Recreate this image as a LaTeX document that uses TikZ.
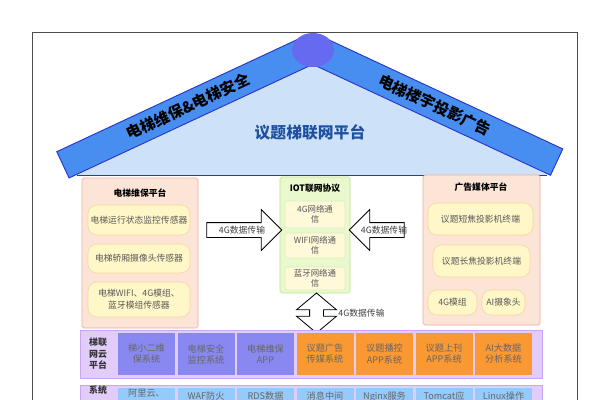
\documentclass[tikz,border=0pt]{standalone}
\usepackage{fontspec}
\setmainfont{Noto Sans CJK SC}
\usetikzlibrary{shapes.arrows, shapes.geometric, positioning}
\newdimen\pxu \pxu=0.03cm
\definecolor{roofblue}{RGB}{205,226,248}
\definecolor{bandblue}{RGB}{72,142,240}
\definecolor{banddark}{RGB}{40,55,200}
\definecolor{knob}{RGB}{102,106,240}
\definecolor{titleblue}{RGB}{30,80,160}
\definecolor{peach}{RGB}{252,228,214}
\definecolor{peachline}{RGB}{240,172,162}
\definecolor{cream}{RGB}{255,247,200}
\definecolor{creamline}{RGB}{243,214,160}
\definecolor{lime}{RGB}{234,249,205}
\definecolor{limeline}{RGB}{188,228,140}
\definecolor{lilac}{RGB}{226,204,250}
\definecolor{lilacline}{RGB}{200,165,245}
\definecolor{periw}{RGB}{136,136,240}
\definecolor{orng}{RGB}{250,152,50}
\definecolor{sky}{RGB}{150,202,250}
\tikzset{
  band/.style={draw=banddark, fill=bandblue, line width=0.8pt, minimum height=29\pxu, inner sep=0pt, font=\fontsize{13}{15}\selectfont\bfseries},
  panel/.style={draw=peachline, fill=peach, line width=0.6pt, rounded corners=1.5pt},
  ptitle/.style={font=\fontsize{7.5}{9}\selectfont\bfseries, inner sep=0pt},
  sensor/.style={draw=creamline, fill=cream, line width=0.5pt, rounded corners=9\pxu, align=center, inner sep=0pt, text=black!65, font=\fontsize{7.5}{10}\selectfont},
  netbox/.style={draw=limeline!60, fill=cream!70!white, line width=0.5pt, rounded corners=2pt, minimum width=60\pxu, align=center, inner sep=0pt, text=black!65, font=\fontsize{7.2}{8.6}\selectfont},
  blockarr/.style={single arrow, draw, fill=white, line width=0.7pt, single arrow head extend=13\pxu, inner xsep=0pt, inner ysep=7\pxu, text height=0pt, text depth=0pt},
  dblarr/.style={double arrow, draw, fill=white, line width=0.7pt, double arrow head extend=13\pxu, double arrow tip angle=100, inner xsep=0pt, inner ysep=6.5\pxu, text height=0pt, text depth=0pt},
  lbl/.style={font=\fontsize{7.5}{9}\selectfont, text=black!75, inner sep=0pt},
  tier/.style={draw=lilacline, fill=lilac, line width=0.6pt, minimum width=462\pxu},
  tierhd/.style={align=center, font=\fontsize{7.6}{9.8}\selectfont\bfseries, text=black!80, inner sep=0pt},
  appcell/.style={minimum width=57\pxu, minimum height=42\pxu, align=center, inner sep=0pt, text=black!60, font=\fontsize{7.8}{9.4}\selectfont},
  svccell/.style={fill=sky, minimum width=57\pxu, anchor=north, align=center, inner xsep=0pt, inner ysep=3.5\pxu, text height=7pt, text depth=40\pxu, text=black!60, font=\fontsize{7.8}{9.4}\selectfont}
}

\begin{document}
\begin{tikzpicture}[x=0.03cm, y=-0.03cm]
  \useasboundingbox (0,0) rectangle (598,400);
  \clip (0,0) rectangle (598,400);
  \draw[gray!60!black, line width=0.8pt] (32,32) rectangle (577,460);

  % roof
  \fill[roofblue] (77,175) -- (313,48) -- (547,175) -- cycle;
  \draw[banddark, line width=0.8pt] (77,175) -- (547,175);
  \node[band, rotate=25, minimum width=276\pxu] (lband) at (188,106.5) {电梯维保\&电梯安全};
  \node[band, rotate=-25, minimum width=269\pxu] (rband) at (434.75,105.25) {电梯楼宇投影广告};
  \node[ellipse, fill=knob, minimum width=42\pxu, minimum height=34\pxu] (apex) at (313,50) {};
  \node[font=\fontsize{13.5}{15}\selectfont\bfseries, text=titleblue] (title) at (310,132) {议题梯联网平台};

  % maintenance platform
  \node[panel, minimum width=116\pxu, minimum height=150\pxu] (maint) at (140,253) {};
  \node[ptitle] (maintT) at (140,193) {电梯维保平台};
  \node[sensor, minimum width=102\pxu, minimum height=30\pxu] (run) at (139,220) {电梯运行状态监控传感器};
  \node[sensor, minimum width=102\pxu, minimum height=29\pxu] (cam) at (139,258.5) {电梯轿厢摄像头传感器};
  \node[sensor, minimum width=102\pxu, minimum height=35\pxu] (wifi) at (139,299.5) {电梯WIFI、4G模组、\\蓝牙模组传感器};

  % IOT protocols
  \node[panel, draw=limeline, fill=lime, minimum width=70\pxu, minimum height=116\pxu] (iot) at (315,235) {};
  \node[ptitle] (iotT) at (315,188) {IOT联网协议};
  \node[netbox, minimum height=27\pxu] (gnet) at (315,214.5) {4G网络通\\信};
  \node[netbox, minimum height=25\pxu] (wnet) at (315,245.5) {WIFI网络通\\信};
  \node[netbox, minimum height=23\pxu] (bnet) at (315,278.5) {蓝牙网络通\\信};

  % media platform
  \node[panel, minimum width=117\pxu, minimum height=150\pxu] (media) at (481.5,250) {};
  \node[ptitle] (mediaT) at (481,187) {广告媒体平台};
  \node[sensor, minimum width=105\pxu, minimum height=32\pxu] (shortp) at (480.5,219) {议题短焦投影机终端};
  \node[sensor, minimum width=97\pxu, minimum height=32\pxu] (longp) at (481.5,261) {议题长焦投影机终端};
  \node[sensor, minimum width=49\pxu, minimum height=25\pxu] (gmod) at (452.5,302.5) {4G模组};
  \node[sensor, minimum width=43\pxu, minimum height=25\pxu] (aicam) at (503.5,302.5) {AI摄象头};

  % data links
  \node[blockarr, minimum height=75\pxu] (toiot) at (240.5,230) {};
  \node[lbl] (toiotL) at (242,230) {4G数据传输};
  \node[blockarr, minimum height=55\pxu, rotate=180] (fromad) at (380.5,230) {};
  \node[lbl] (fromadL) at (384,230) {4G数据传输};
  \node[dblarr, minimum height=40\pxu, rotate=90] (updown) at (316.5,313) {};
  \node[lbl] (updownL) at (361.5,313) {4G数据传输};

  % cloud platform row
  \node[tier, minimum height=48\pxu] (cloud) at (311,354) {};
  \node[tierhd] (cloudT) at (98,354) {梯联\\网云\\平台};
  \node[appcell, fill=periw] (app1) at (146.5,354) {梯小二维\\保系统};
  \node[appcell, fill=periw] (app2) at (206,354) {电梯安全\\监控系统};
  \node[appcell, fill=periw] (app3) at (265.5,354) {电梯维保\\APP};
  \node[appcell, fill=orng] (app4) at (325,354) {议题广告\\传媒系统};
  \node[appcell, fill=orng] (app5) at (384.5,354) {议题播控\\APP系统};
  \node[appcell, fill=orng] (app6) at (444,354) {议题上刊\\APP系统};
  \node[appcell, fill=orng] (app7) at (503.5,354) {AI大数据\\分析系统};

  % system row
  \node[tier, anchor=north, minimum height=70\pxu] (sys) at (311,385) {};
  \node[tierhd] (sysT) at (98,390) {系统};
  \node[svccell, text height=4pt] (svc1) at (146.5,388) {阿里云、};
  \node[svccell] (svc2) at (206,388) {WAF防火};
  \node[svccell] (svc3) at (265.5,388) {RDS数据};
  \node[svccell] (svc4) at (325,388) {消息中间};
  \node[svccell] (svc5) at (384.5,388) {Nginx服务};
  \node[svccell] (svc6) at (444,388) {Tomcat应};
  \node[svccell] (svc7) at (503.5,388) {Linux操作};
\end{tikzpicture}
\end{document}
